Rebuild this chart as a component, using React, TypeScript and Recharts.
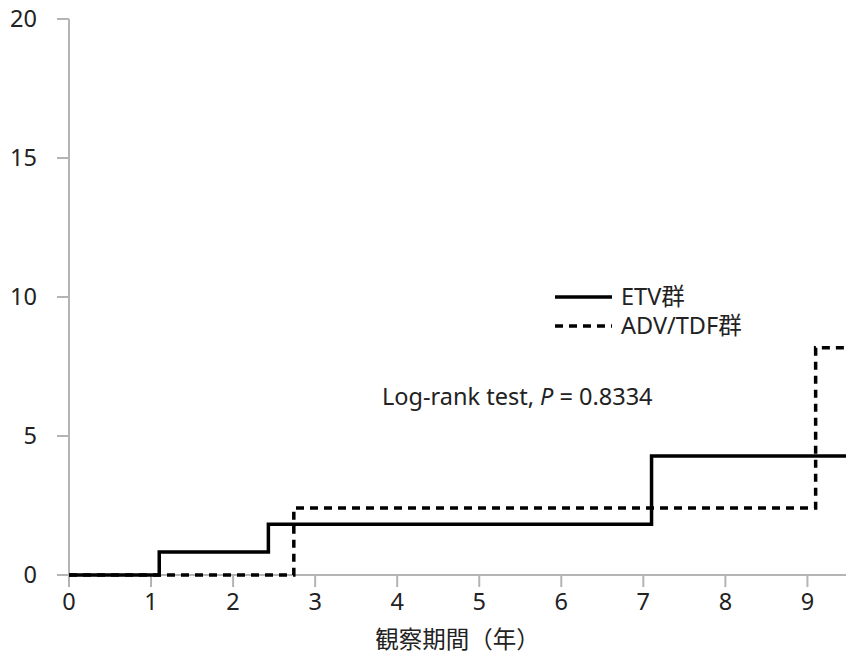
import { LineChart, Line, XAxis, YAxis, Label } from 'recharts';

const etvTimes = [0, 1.1, 2.43, 7.1, 9.47];
const etvValues = [0, 0.83, 1.83, 4.28, 4.28];
const advTimes = [0, 2.74, 9.1, 9.47];
const advValues = [0, 2.41, 8.17, 8.17];
const xTicks = [0, 1, 2, 3, 4, 5, 6, 7, 8, 9];
const yTicks = [0, 5, 10, 15, 20];

const etvData = etvTimes.map((t, i) => ({ t, v: etvValues[i] }));
const advData = advTimes.map((t, i) => ({ t, v: advValues[i] }));

const font = "'Noto Sans', 'Noto Sans CJK JP', sans-serif";
const axisColor = '#b4b4b4';
const textSize = 23.5;
const tickStyle = { fill: '#222', fontSize: textSize, fontFamily: font };

function LegendBox() {
  return (
    <div
      style={{
        position: 'absolute',
        left: 555,
        top: 282,
        fontFamily: font,
        fontSize: textSize,
        color: '#222',
        lineHeight: '29px',
      }}
    >
      <div style={{ display: 'flex', alignItems: 'center' }}>
        <svg width={66} height={29}>
          <line x1={0} y1={15} x2={57} y2={15} stroke="#000" strokeWidth={3.5} />
        </svg>
        <span>ETV群</span>
      </div>
      <div style={{ display: 'flex', alignItems: 'center' }}>
        <svg width={66} height={29}>
          <line x1={0} y1={15} x2={57} y2={15} stroke="#000" strokeWidth={3.5} strokeDasharray="8 6" />
        </svg>
        <span>ADV/TDF群</span>
      </div>
    </div>
  );
}

export default function App() {
  return (
    <div style={{ position: 'absolute', left: 0, top: 0, width: 846, height: 665, background: '#fff' }}>
      <LineChart width={846} height={665} margin={{ top: 19, right: 0, bottom: 0, left: 0 }}>
        <XAxis
          type="number"
          dataKey="t"
          domain={[0, 9.47]}
          ticks={xTicks}
          allowDataOverflow
          stroke={axisColor}
          strokeWidth={2}
          tickSize={12}
          tickMargin={6}
          tick={tickStyle}
          height={90}
        >
          <Label
            value="観察期間（年）"
            position="insideBottom"
            offset={17}
            style={{ fill: '#222', fontSize: textSize, fontFamily: font }}
          />
        </XAxis>
        <YAxis
          type="number"
          dataKey="v"
          domain={[0, 20]}
          ticks={yTicks}
          stroke={axisColor}
          strokeWidth={2}
          tickSize={12}
          tickMargin={20}
          tick={tickStyle}
          width={69}
        />
        <Line
          data={advData}
          dataKey="v"
          type="stepAfter"
          stroke="#000"
          strokeWidth={3.5}
          strokeDasharray="8 6"
          dot={false}
          isAnimationActive={false}
          zIndex={700}
        />
        <Line
          data={etvData}
          dataKey="v"
          type="stepAfter"
          stroke="#000"
          strokeWidth={3.5}
          dot={false}
          isAnimationActive={false}
          zIndex={800}
        />
      </LineChart>
      <LegendBox />
      <div
        style={{
          position: 'absolute',
          left: 382,
          top: 380,
          fontFamily: font,
          fontSize: textSize,
          color: '#222',
          whiteSpace: 'nowrap',
        }}
      >
        Log-rank test, <i>P</i> = 0.8334
      </div>
    </div>
  );
}
